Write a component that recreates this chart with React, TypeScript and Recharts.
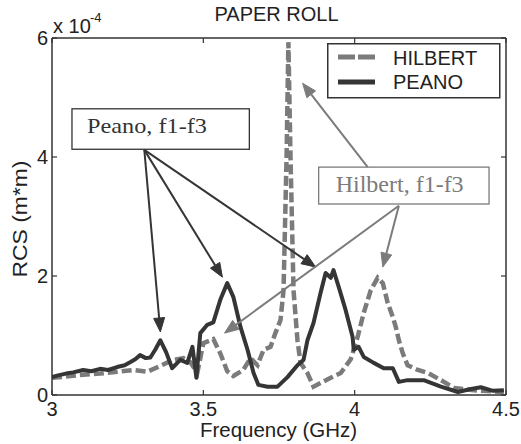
import React from "react";
import {
  LineChart,
  Line,
  XAxis,
  YAxis,
  ReferenceLine,
  ReferenceArea,
  Legend,
} from "recharts";

// ---- data (RCS in units of 1e-4 m*m) ----
const peanoFreq = [
  3.0, 3.02, 3.046, 3.07, 3.103, 3.13, 3.159, 3.185, 3.215, 3.24, 3.258, 3.275, 3.291, 3.31, 3.325,
  3.341, 3.358, 3.377, 3.397, 3.41, 3.424, 3.447, 3.464, 3.477, 3.49, 3.513, 3.533, 3.556, 3.579,
  3.599, 3.623, 3.646, 3.666, 3.682, 3.712, 3.745, 3.778, 3.811, 3.831, 3.844, 3.864, 3.887, 3.904,
  3.921, 3.93, 3.947, 3.97, 3.993, 3.997, 4.013, 4.03, 4.063, 4.096, 4.126, 4.146, 4.175, 4.228,
  4.285, 4.341, 4.384, 4.417, 4.457, 4.493,
];
const peanoRcs = [
  0.3, 0.33, 0.36, 0.38, 0.42, 0.4, 0.44, 0.42, 0.47, 0.5, 0.55, 0.6, 0.67, 0.62, 0.63,
  0.76, 0.92, 0.72, 0.45, 0.52, 0.59, 0.54, 0.81, 0.29, 1.04, 1.18, 1.22, 1.6, 1.88,
  1.65, 1.14, 0.76, 0.37, 0.17, 0.14, 0.14, 0.3, 0.5, 0.59, 0.92, 1.21, 1.71, 2.05,
  1.97, 2.1, 1.82, 1.43, 0.98, 0.76, 0.81, 0.64, 0.54, 0.45, 0.45, 0.22, 0.25, 0.25,
  0.14, 0.05, 0.1, 0.13, 0.07, 0.08,
];
const hilbertFreq = [
  3.0, 3.046, 3.103, 3.159, 3.215, 3.268, 3.315, 3.358, 3.401, 3.434, 3.457, 3.48, 3.5, 3.533,
  3.556, 3.579, 3.599, 3.632, 3.656, 3.679, 3.699, 3.722, 3.738, 3.755, 3.765, 3.775, 3.781,
  3.788, 3.798, 3.811, 3.821, 3.844, 3.864, 3.887, 3.921, 3.954, 3.987, 4.01, 4.03, 4.053,
  4.076, 4.093, 4.109, 4.126, 4.136, 4.146, 4.159, 4.175, 4.209, 4.242, 4.285, 4.328, 4.394,
  4.493,
];
const hilbertRcs = [
  0.29, 0.31, 0.34, 0.36, 0.39, 0.42, 0.39, 0.49, 0.59, 0.62, 0.55, 0.37, 0.87, 0.94,
  0.7, 0.4, 0.32, 0.42, 0.62, 0.5, 0.76, 0.81, 1.04, 1.26, 1.76, 4.0, 5.93,
  4.0, 1.76, 0.92, 0.54, 0.37, 0.14, 0.2, 0.29, 0.37, 0.6, 0.98, 1.38, 1.76,
  1.97, 1.88, 1.55, 1.31, 1.14, 0.92, 0.7, 0.5, 0.42, 0.37, 0.25, 0.12, 0.08,
  0.05,
];
const xTicks = [3, 3.5, 4, 4.5];
const yTicks = [0, 2, 4, 6];
const seriesNames = ["HILBERT", "PEANO"];

// annotation anchors in data coordinates
const peanoArrowFrom = { x: 3.305, y: 4.12 };
const peanoArrowTips = [
  { x: 3.358, y: 1.06 },
  { x: 3.563, y: 1.98 },
  { x: 3.871, y: 2.15 },
];
const hilbertArrows = [
  { from: { x: 4.043, y: 3.83 }, to: { x: 3.828, y: 5.24 } },
  { from: { x: 4.146, y: 3.18 }, to: { x: 3.57, y: 1.04 } },
  { from: { x: 4.146, y: 3.18 }, to: { x: 4.093, y: 2.15 } },
];
const peanoBox = { x1: 3.066, x2: 3.652, y1: 4.13, y2: 4.81, text: "Peano, f1-f3" };
const hilbertBox = { x1: 3.881, x2: 4.444, y1: 3.21, y2: 3.83, text: "Hilbert, f1-f3" };

const hilbertData = hilbertFreq.map((f, i) => ({ f, v: hilbertRcs[i] }));
const peanoData = peanoFreq.map((f, i) => ({ f, v: peanoRcs[i] }));

const DARK = "#353535";
const GREY = "#7b7b7b";
const FRAME = "#333";
const SANS = "'Liberation Sans', Arial, Helvetica, sans-serif";
const SERIF = "'Liberation Serif', 'Times New Roman', serif";

const makeArrow = (color: string) => (props: any) => {
  const { x1, y1, x2, y2 } = props;
  const dx = x2 - x1;
  const dy = y2 - y1;
  const len = Math.sqrt(dx * dx + dy * dy) || 1;
  const ux = dx / len;
  const uy = dy / len;
  const hl = 14;
  const hw = 5.5;
  const bx = x2 - ux * hl;
  const by = y2 - uy * hl;
  const px = -uy;
  const py = ux;
  return (
    <g>
      <line x1={x1} y1={y1} x2={bx} y2={by} stroke={color} strokeWidth={2} />
      <polygon
        points={`${x2},${y2} ${bx + px * hw},${by + py * hw} ${bx - px * hw},${by - py * hw}`}
        fill={color}
        stroke={color}
        strokeWidth={1}
      />
    </g>
  );
};

const makeBox = (text: string, color: string, fontSize: number, tl: number, dx: number, dy: number) =>
  (props: any) => {
    const { x, y, width, height } = props;
    return (
      <g>
        <rect x={x} y={y} width={width} height={height} fill="#fff" stroke={color} strokeWidth={1.3} />
        <text
          x={x + dx}
          y={y + dy}
          fontFamily={SERIF}
          fontSize={fontSize}
          fill={color}
          textLength={tl}
          lengthAdjust="spacingAndGlyphs"
        >
          {text}
        </text>
      </g>
    );
  };

const BottomTick = (props: any) => {
  const { x, y, payload } = props;
  return (
    <g>
      <line x1={x} x2={x} y1={y} y2={y - 5} stroke={FRAME} strokeWidth={1.2} />
      <text x={x} y={y + 21} textAnchor="middle" fontFamily={SANS} fontSize={20} fill="#222">
        {String(payload.value)}
      </text>
    </g>
  );
};
const TopTick = (props: any) => {
  const { x, y } = props;
  return <line x1={x} x2={x} y1={y} y2={y + 5} stroke={FRAME} strokeWidth={1.2} />;
};
const LeftTick = (props: any) => {
  const { x, y, payload } = props;
  return (
    <g>
      <line x1={x} x2={x + 5} y1={y} y2={y} stroke={FRAME} strokeWidth={1.2} />
      <text x={x - 4} y={y + 7} textAnchor="end" fontFamily={SANS} fontSize={20} fill="#222">
        {String(payload.value)}
      </text>
    </g>
  );
};
const RightTick = (props: any) => {
  const { x, y } = props;
  return <line x1={x} x2={x - 5} y1={y} y2={y} stroke={FRAME} strokeWidth={1.2} />;
};

const LegendBox = () => (
  <svg width={174} height={56} style={{ display: "block" }}>
    <rect x={0.75} y={0.75} width={172} height={54} fill="#fff" stroke={FRAME} strokeWidth={1.5} />
    <line x1={11} x2={48} y1={14} y2={14} stroke={GREY} strokeWidth={5} strokeDasharray="17 3" />
    <text x={66} y={22} fontFamily={SANS} fontSize={20} fill="#222">
      {seriesNames[0]}
    </text>
    <line x1={11} x2={48} y1={39} y2={39} stroke={DARK} strokeWidth={5} />
    <text x={66} y={46} fontFamily={SANS} fontSize={20} fill="#222">
      {seriesNames[1]}
    </text>
  </svg>
);

export default function App() {
  return (
    <div style={{ position: "absolute", left: 0, top: 0, width: 521, height: 444, background: "#fff" }}>
      <LineChart
        width={521}
        height={444}
        margin={{ top: 37, right: 14, bottom: 48, left: 51 }}
        style={{ position: "absolute", left: 0, top: 0 }}
      >
        <XAxis
          xAxisId="b"
          type="number"
          dataKey="f"
          domain={[3, 4.5]}
          ticks={xTicks}
          height={1}
          tickSize={0}
          tickMargin={0}
          tick={<BottomTick />}
          axisLine={{ stroke: FRAME, strokeWidth: 1.5 }}
          tickLine={false}
          allowDataOverflow
        />
        <XAxis
          xAxisId="t"
          orientation="top"
          type="number"
          dataKey="f"
          domain={[3, 4.5]}
          ticks={xTicks}
          height={1}
          tickSize={0}
          tickMargin={0}
          tick={<TopTick />}
          axisLine={{ stroke: FRAME, strokeWidth: 1.5 }}
          tickLine={false}
          allowDataOverflow
        />
        <YAxis
          yAxisId="l"
          type="number"
          domain={[0, 6]}
          ticks={yTicks}
          width={1}
          tickSize={0}
          tickMargin={0}
          tick={<LeftTick />}
          axisLine={{ stroke: FRAME, strokeWidth: 1.5 }}
          tickLine={false}
          allowDataOverflow
        />
        <YAxis
          yAxisId="r"
          orientation="right"
          type="number"
          domain={[0, 6]}
          ticks={yTicks}
          width={1}
          tickSize={0}
          tickMargin={0}
          tick={<RightTick />}
          axisLine={{ stroke: FRAME, strokeWidth: 1.5 }}
          tickLine={false}
          allowDataOverflow
        />
        <Line
          xAxisId="b"
          yAxisId="l"
          data={hilbertData}
          dataKey="v"
          name={seriesNames[0]}
          type="linear"
          stroke={GREY}
          strokeWidth={4.5}
          strokeDasharray="10 4"
          dot={false}
          activeDot={false}
          isAnimationActive={false}
        />
        <Line
          xAxisId="b"
          yAxisId="l"
          data={peanoData}
          dataKey="v"
          name={seriesNames[1]}
          type="linear"
          stroke={DARK}
          strokeWidth={4}
          strokeLinejoin="round"
          dot={false}
          activeDot={false}
          isAnimationActive={false}
        />
        <ReferenceArea
          xAxisId="b"
          yAxisId="l"
          x1={peanoBox.x1}
          x2={peanoBox.x2}
          y1={peanoBox.y1}
          y2={peanoBox.y2}
          shape={makeBox(peanoBox.text, "#333", 22, 120, 15, 24)}
          ifOverflow="visible"
        />
        <ReferenceArea
          xAxisId="b"
          yAxisId="l"
          x1={hilbertBox.x1}
          x2={hilbertBox.x2}
          y1={hilbertBox.y1}
          y2={hilbertBox.y2}
          shape={makeBox(hilbertBox.text, GREY, 23, 128, 17, 25)}
          ifOverflow="visible"
        />
        {peanoArrowTips.map((t, i) => (
          <ReferenceLine
            key={"pa" + i}
            xAxisId="b"
            yAxisId="l"
            segment={[peanoArrowFrom, t]}
            shape={makeArrow(DARK)}
            ifOverflow="visible"
          />
        ))}
        {hilbertArrows.map((a, i) => (
          <ReferenceLine
            key={"ha" + i}
            xAxisId="b"
            yAxisId="l"
            segment={[a.from, a.to]}
            shape={makeArrow(GREY)}
            ifOverflow="visible"
          />
        ))}
        <Legend
          layout="horizontal"
          verticalAlign="middle"
          align="center"
          content={() => <LegendBox />}
          wrapperStyle={{ position: "absolute", left: 327, top: 43, width: 174, height: 56 }}
        />
      </LineChart>
      <svg
        width={521}
        height={444}
        style={{ position: "absolute", left: 0, top: 0, pointerEvents: "none" }}
      >
        <text x={276.5} y={21} textAnchor="middle" fontFamily={SANS} fontSize={20} fill="#222">
          PAPER ROLL
        </text>
        <text x={53} y={33} fontFamily={SANS} fontSize={20} fill="#222">
          x 10
        </text>
        <text x={90} y={22} fontFamily={SANS} fontSize={13} fill="#222">
          -4
        </text>
        <text
          x={278.5}
          y={437}
          textAnchor="middle"
          fontFamily={SANS}
          fontSize={20}
          fill="#222"
          textLength={157}
          lengthAdjust="spacingAndGlyphs"
        >
          Frequency (GHz)
        </text>
        <text
          x={27}
          y={219}
          textAnchor="middle"
          fontFamily={SANS}
          fontSize={20}
          fill="#222"
          transform="rotate(-90, 27, 219)"
          textLength={117}
          lengthAdjust="spacingAndGlyphs"
        >
          RCS (m*m)
        </text>
      </svg>
    </div>
  );
}
